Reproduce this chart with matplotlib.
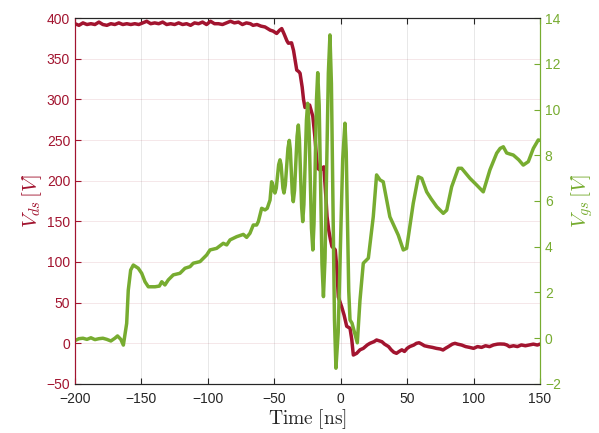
import matplotlib
matplotlib.use('Agg')
import matplotlib.pyplot as plt

# Vds trace (left axis)
t_ds = [-200, -197, -194, -191, -188, -185, -182, -179, -176, -173, -170, -167, -164, -161,
        -158, -155, -152, -149, -146, -143, -140, -137, -134, -131, -128, -125, -122, -119,
        -116, -113, -110, -107, -104, -101, -98, -95, -92, -89, -86, -83, -80, -77, -74,
        -71, -68, -66, -63, -60, -57, -55, -53, -51, -48.2, -46, -44.4, -42.5, -40.5, -39.4,
        -37, -35.5, -34, -33.1, -31.5, -30.6, -29, -28, -26.9, -25.5, -23.4, -22, -21, -19.5,
        -18, -17.3, -15.5, -13.5, -12.7, -11.8, -11, -10.3, -9, -7.8, -6.6, -4.1, -3, -1.8,
        0.7, 2.5, 4.5, 7, 8.3, 9.5, 12, 14.5, 17, 20, 22, 25, 27, 29, 31, 33, 36, 38, 40, 42,
        44, 46, 48, 50, 52, 55, 57, 59, 61, 63, 66, 69, 72, 75, 77, 79, 81, 84, 86, 88, 91,
        94, 97, 100, 103, 106, 109, 112, 115, 118, 120, 123, 125, 127, 130, 133, 136, 139,
        142, 145, 148, 150]
v_ds = [393, 391, 394, 392, 393, 392, 395, 392, 391, 393, 392, 394, 392, 393,
        392, 393, 392, 394, 396, 393, 394, 393, 395, 392, 393, 392, 394, 392,
        393, 391, 394, 393, 395, 392, 396, 393, 393, 392, 394, 396, 394, 395, 392,
        394, 393, 391, 392, 390, 389, 387, 385, 384, 381, 385, 387, 380, 372, 369,
        369.5, 360, 345, 336, 334, 332, 315, 300, 290, 291, 293, 285, 279, 255,
        225, 215, 213, 216, 217, 195, 176, 156, 139, 128, 119, 115, 94, 57,
        45, 35, 21, 18.5, 5, -14.4, -12.3, -8, -6.2, -2, 0, 2, 4.1, 3, 2, -1, -4, -8, -11, -12.3,
        -10, -8, -10, -6.2, -4, -2.1, 0, 0.7, -1, -3, -4.1, -5, -6.2, -7, -8.2, -6, -4.1, -1, 0, -1, -2.1,
        -4, -5, -6.2, -4, -5, -3, -4.1, -2, -1, -0.8, -1, -2, -4.1, -3, -4, -2, -3,
        -2, -1, -2.1, -1]

# Vgs trace (right axis)
t_gs = [-200, -197, -194, -191, -188, -185, -182, -179, -176, -173, -170, -168, -165.5, -163.6,
        -161.1, -159.9, -158.1, -156.1, -152.4, -149.8, -147.3, -144.8, -139.8, -136.5, -134.7,
        -132.3, -129.8, -126, -121, -117.2, -113.4, -111, -105.9, -100.9, -98.4, -93.4, -88.4,
        -85.8, -83.3, -78.3, -73.3, -70.8, -68.3, -65.8, -63.3, -62, -59.5, -57, -55.3, -53.2,
        -52, -51.4, -50.1, -49.5, -48.5, -46.7, -45.7, -44.9, -43.5, -42.7, -41.7, -39.7, -38.7,
        -37.95, -36.45, -35.7, -34.75, -32.85, -31.9, -31.1, -29.4, -28.6, -27.7, -25.8, -24.9,
        -23.9, -22, -21, -20.1, -18.2, -17.3, -16.2, -14.1, -13, -11.8, -9.3, -8.1,
        -7, -4.7, -3.6, -1.9, 1.5, 3.2, 4.15, 6.05, 7, 8.5, 12.5, 14.5, 17, 20.8, 24.5, 27,
        29.6, 32, 37, 43.3, 47.1, 49.6,
        54.6, 58.4, 61, 64.7, 68, 72.3, 77.2, 79.8, 83.5, 88.5, 91, 97.3, 102.3, 107.3, 112.3,
        117.4, 120, 122.4, 124.9, 127.5, 129.9, 134, 137.4, 141.2, 145, 148.7, 150]
v_gs = [-0.1, -0.02, 0.0, -0.05, 0.02, -0.06, -0.02, 0.0, -0.05, -0.12, 0.0, 0.1, -0.05, -0.3,
        0.65, 2.1, 2.98, 3.2, 3.06, 2.84, 2.47, 2.25, 2.25, 2.28, 2.47,
        2.33, 2.55, 2.77, 2.84, 3.06, 3.13, 3.28, 3.35, 3.64, 3.86, 3.93, 4.15,
        4.08, 4.3, 4.44, 4.54, 4.41, 4.59, 4.95, 4.95, 5.1, 5.68, 5.61, 5.68, 6.04,
        6.84, 6.77, 6.42, 6.35, 6.56, 7.59, 7.8, 7.59, 6.56, 6.35, 6.69, 8.31, 8.65,
        8.26, 6.36, 5.97, 6.46, 8.83, 9.32, 8.7, 5.72, 5.1, 5.85, 9.52, 10.27,
        9.33, 4.8, 3.86, 5.0, 10.48, 11.61, 10.18, 3.25, 1.82, 3.49, 11.59, 13.26,
        11.13, 0.82, -1.31, 0.25, 7.84, 9.4, 8.14, 2.06, 0.8, 0.66, -0.2, 1.66, 3.28, 3.5, 5.31, 7.14,
        6.92, 6.84, 5.31, 4.51, 3.86, 3.93,
        5.9, 7.06, 6.99, 6.4, 6.1, 5.75, 5.46, 5.6, 6.62, 7.43, 7.43, 6.99, 6.7, 6.4, 7.36,
        8.09, 8.3, 8.37, 8.1, 8.05, 8.01, 7.8, 7.57, 7.72, 8.3, 8.67, 8.65]

red = '#A2142F'
green = '#77AC30'
dark = '#262626'

plt.rcParams['mathtext.fontset'] = 'cm'
plt.rcParams['font.family'] = ['Liberation Sans', 'DejaVu Sans']

fig = plt.figure(figsize=(5.99, 4.33), dpi=100)
ax = fig.add_axes([0.1252, 0.1132, 0.7763, 0.8452])
ax2 = ax.twinx()

ax.plot(t_ds, v_ds, color=red, lw=2.5, solid_joinstyle='round')
ax2.plot(t_gs, v_gs, color=green, lw=2.5, solid_joinstyle='round')

ax.set_xlim(-200, 150)
ax.set_ylim(-50, 400)
ax2.set_ylim(-2, 14)
ax.set_xticks(range(-200, 151, 50))
ax.set_yticks(range(-50, 401, 50))
ax2.set_yticks(range(-2, 15, 2))

# grid like MATLAB: light vertical lines, pinkish horizontal ones
ax.grid(axis='x', color=dark, alpha=0.12, lw=0.6)
ax.grid(axis='y', color=red, alpha=0.12, lw=0.6)

ax.tick_params(axis='x', direction='in', length=4, colors=dark, labelsize=10,
               top=True, pad=6)
ax.tick_params(axis='y', direction='in', length=4, colors=red, labelsize=10)
ax2.tick_params(axis='y', direction='in', length=4, colors=green, labelsize=10)

for a in (ax, ax2):
    a.spines['top'].set_color(dark)
    a.spines['bottom'].set_color(dark)
    a.spines['left'].set_color(red)
    a.spines['right'].set_color(green)
    for s in a.spines.values():
        s.set_linewidth(0.8)

ax.set_xlabel(r'$\mathrm{Time}\ [\mathrm{ns}]$', fontsize=14, color=dark, labelpad=1)
ax.set_ylabel(r'$V_{ds}\,[V]$', fontsize=15, color=red, labelpad=2)
ax2.set_ylabel(r'$V_{gs}\,[V]$', fontsize=15, color=green, rotation=90, labelpad=6)

fig.savefig('out.png', dpi=100)
